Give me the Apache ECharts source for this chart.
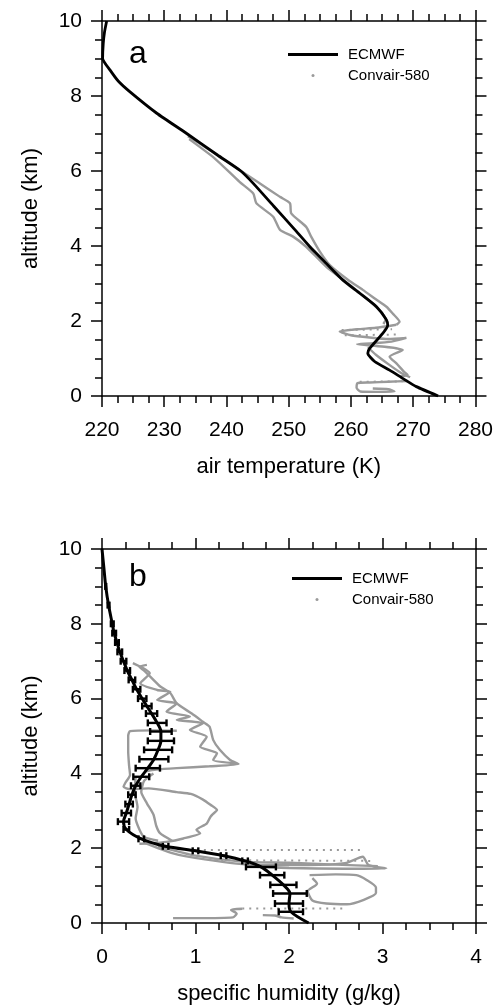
<!DOCTYPE html>
<html>
<head>
<meta charset="utf-8">
<script src="https://cdn.jsdelivr.net/npm/echarts@6/dist/echarts.min.js"></script>
<style>
html,body{margin:0;padding:0;background:#fff;}
#c{width:496px;height:1007px;}
</style>
</head>
<body>
<div id="c"></div>
<script>
// ---------- DATA ----------
// Panel a: air temperature (K) vs altitude (km)
const ecmwfT = [[220.75,10],[220.4,9.7],[220.2,9.4],[220.1,9.0],[221.3,8.69],[222.6,8.4],[224.5,8.11],[228.8,7.54],[233.6,7.0],[238.6,6.42],[242.3,6.0],[244.3,5.67],[247.6,5.06],[250.9,4.45],[253.4,3.98],[256.0,3.54],[258.7,3.09],[261.4,2.74],[264.1,2.38],[265.7,2.03],[265.9,1.89],[265.1,1.67],[263.0,1.27],[262.7,1.14],[263.8,0.92],[266.2,0.69],[268.5,0.45],[270.5,0.25],[274.0,0]];
const convT1 = [[233.8,6.93],[237.4,6.55],[241.0,6.15],[244.9,5.72],[248.6,5.31],[250.2,5.14],[250.4,4.87],[252.8,4.51],[253.6,4.25],[255.0,3.85],[256.6,3.49],[259.5,3.1],[261.9,2.83],[264.0,2.58],[265.7,2.38],[266.7,2.2],[267.8,1.98],[267.3,1.9]];
const convT2 = [[234.0,6.85],[238.0,6.35],[242.1,5.71],[244.3,5.40],[244.8,5.14],[247.5,4.78],[248.6,4.43],[250.7,4.25],[252.8,3.98],[256.0,3.45],[259.5,3.0],[262.5,2.6],[264.5,2.3],[265.6,2.05],[265.2,1.92]];
const convT3 = [[267.3,1.9],[264.0,1.82],[261.0,1.78],[258.2,1.72],[260.0,1.62],[263.0,1.56],[266.0,1.52],[268.9,1.55],[266.5,1.45],[263.0,1.4],[261.0,1.38],[265.0,1.32],[268.3,1.23],[266.2,1.05],[267.3,0.87],[268.5,0.65],[269.1,0.56],[268.0,0.52]];
const convT4 = [[262.7,1.30],[264.0,1.1],[266.0,0.85],[268.0,0.62],[269.5,0.5]];
const convT5 = [[269.1,0.40],[266.0,0.38],[263.0,0.36],[261.0,0.34],[260.9,0.22],[261.5,0.12],[264.0,0.11],[267.0,0.12],[266.0,0.18],[263.5,0.2]];
const convTdots = [[[258.5,1.76],[266.6,1.78]],[[259.0,1.62],[268.0,1.64]],[[261.4,0.38],[268.3,0.39]]];

// Panel b: specific humidity (g/kg) vs altitude (km); ECMWF [q, z, std]
const ecmwfQ = [[0.0,10.0,0],[0.02,9.5,0],[0.04,9.0,0.005],[0.07,8.5,0.01],[0.11,8.0,0.015],[0.13,7.75,0.02],[0.16,7.5,0.02],[0.19,7.25,0.025],[0.23,7.0,0.03],[0.27,6.75,0.03],[0.32,6.5,0.035],[0.37,6.25,0.04],[0.43,6.0,0.045],[0.48,5.8,0.05],[0.53,5.6,0.06],[0.59,5.35,0.10],[0.63,5.12,0.115],[0.63,4.87,0.14],[0.60,4.63,0.15],[0.555,4.38,0.155],[0.49,4.14,0.13],[0.42,3.91,0.085],[0.36,3.67,0.05],[0.32,3.43,0.04],[0.29,3.18,0.04],[0.26,2.94,0.05],[0.23,2.71,0.06],[0.26,2.5,0.03],[0.42,2.25,0.03],[0.68,2.05,0.03],[1.0,1.93,0.03],[1.3,1.80,0.03],[1.53,1.66,0.03],[1.70,1.50,0.16],[1.82,1.28,0.13],[1.94,1.02,0.14],[2.01,0.79,0.18],[2.0,0.52,0.15],[2.02,0.30,0.13],[2.21,0.0,0]];
const convQ1 = [[0.48,6.9],[0.40,6.85],[0.45,6.75],[0.51,6.6],[0.62,6.33],[0.73,6.15],[0.80,5.87],[0.96,5.6],[1.08,5.38],[1.15,5.25],[1.19,4.89],[1.26,4.63],[1.37,4.36],[1.46,4.25],[1.15,4.19],[0.80,4.14],[0.58,4.10],[0.45,4.05]];
const convQ2 = [[0.33,6.95],[0.51,6.68],[0.41,6.41],[0.59,6.23],[0.73,6.18],[0.59,5.96],[0.80,5.87],[0.69,5.65],[0.94,5.52],[0.80,5.43],[1.08,5.34],[0.94,5.16],[1.12,4.98],[1.05,4.71],[1.23,4.54],[1.19,4.36],[1.44,4.27]];
const convQ3 = [[0.80,5.14],[0.55,5.15],[0.30,5.13],[0.28,5.0],[0.28,4.6],[0.29,4.2],[0.30,3.96],[0.25,3.75],[0.23,3.64],[0.30,3.58],[0.50,3.6],[0.80,3.5],[0.95,3.45],[1.08,3.3],[1.16,3.16],[1.23,3.02],[1.18,2.9],[1.16,2.84],[1.12,2.66],[1.01,2.49],[1.05,2.4],[0.87,2.26],[0.69,2.17],[0.51,2.13],[0.40,2.12]];
const convQ4 = [[0.36,3.9],[0.35,3.5],[0.38,3.1],[0.36,2.8],[0.40,2.5],[0.45,2.3],[0.60,2.2]];
const convQ5 = [[0.55,4.0],[0.45,3.8],[0.42,3.5],[0.48,3.2],[0.55,2.9],[0.58,2.6],[0.62,2.4],[0.75,2.2]];
const convQ6 = [[0.45,2.15],[0.75,1.87],[1.1,1.7],[1.63,1.55],[2.2,1.55],[2.6,1.6],[2.79,1.77],[2.85,1.55],[3.04,1.46],[2.6,1.45],[2.0,1.47],[1.65,1.5]];
const convQ6b = [[0.6,2.05],[1.0,1.8],[1.5,1.64],[2.0,1.61],[2.5,1.56],[2.95,1.52]];
const convQ7 = [[2.22,1.28],[2.5,1.3],[2.72,1.28],[2.83,1.15],[2.93,0.95],[2.93,0.8],[2.8,0.62],[2.62,0.5],[2.4,0.52],[2.25,0.6],[2.2,0.85],[2.3,1.05],[2.25,1.2]];
const convQ8 = [[0.76,0.13],[1.0,0.13],[1.40,0.15],[1.44,0.25],[1.38,0.35],[1.5,0.38]];
const convQ9 = [[1.72,0.21],[1.85,0.2],[1.92,0.15],[2.05,0.12]];
const convQdots = [[[0.94,1.95],[2.79,1.95]],[[1.2,1.68],[2.9,1.66]],[[1.5,0.39],[2.58,0.39]]];

// Axis ranges and ticks
const tRange = [220, 280, 10];
const qRange = [0, 4, 1];
const zRange = [0, 10, 2];

// ---------- CHART ----------
const FONT = 'Liberation Sans, Arial, Helvetica, sans-serif';
const chart = echarts.init(document.getElementById('c'), null, {renderer: 'canvas', width: 496, height: 1007});

function xAx(gi, range, pos, name) {
  return {
    type: 'value', gridIndex: gi, position: pos, min: range[0], max: range[1], interval: range[2],
    name: name || '', nameLocation: 'middle', nameGap: 60,
    nameTextStyle: {fontSize: 22, color: '#000', fontFamily: FONT},
    axisLine: {show: true, onZero: false, lineStyle: {color: '#000', width: 1.5}},
    axisTick: {show: true, inside: false, length: 11, lineStyle: {color: '#000', width: 1.5}},
    minorTick: {show: true, splitNumber: 4, length: 7, lineStyle: {color: '#000', width: 1.5}},
    splitLine: {show: false}, minorSplitLine: {show: false},
    axisLabel: {show: pos === 'bottom', margin: 24, fontSize: 21, color: '#000', fontFamily: FONT}
  };
}
function yAx(gi, pos, name) {
  return {
    type: 'value', gridIndex: gi, position: pos, min: zRange[0], max: zRange[1], interval: zRange[2],
    name: name || '', nameLocation: 'middle', nameGap: 60, nameRotate: 90,
    nameTextStyle: {fontSize: 22, color: '#000', fontFamily: FONT},
    axisLine: {show: true, onZero: false, lineStyle: {color: '#000', width: 1.5}},
    axisTick: {show: true, inside: false, length: 11, lineStyle: {color: '#000', width: 1.5}},
    minorTick: {show: true, splitNumber: 4, length: 7, lineStyle: {color: '#000', width: 1.5}},
    splitLine: {show: false}, minorSplitLine: {show: false},
    axisLabel: {show: pos === 'left', margin: 20, fontSize: 21, color: '#000', fontFamily: FONT}
  };
}

const GRAY = '#9a9a9a';
function grayLine(data, xi, yi) {
  return {type: 'line', name: 'Convair-580', xAxisIndex: xi, yAxisIndex: yi, data: data,
    showSymbol: false, symbol: 'circle', symbolSize: 2, smooth: 0.2, z: 2,
    itemStyle: {color: GRAY}, lineStyle: {color: GRAY, width: 2.4}, silent: true, animation: false};
}
function grayDots(data, xi, yi) {
  return {type: 'line', name: 'Convair-580', xAxisIndex: xi, yAxisIndex: yi, data: data,
    showSymbol: false, symbol: 'circle', z: 2,
    itemStyle: {color: GRAY}, lineStyle: {color: GRAY, width: 2, type: [2, 5]}, silent: true, animation: false};
}

const series = [];
[convT1, convT2, convT3, convT4, convT5].forEach(d => series.push(grayLine(d, 0, 0)));
convTdots.forEach(d => series.push(grayDots(d, 0, 0)));
series.push({type: 'line', name: 'ECMWF', xAxisIndex: 0, yAxisIndex: 0, data: ecmwfT,
  showSymbol: false, smooth: 0.2, z: 5, itemStyle: {color: '#000'}, lineStyle: {color: '#000', width: 2.8}, animation: false});

[convQ1, convQ2, convQ3, convQ4, convQ5, convQ6, convQ6b, convQ7, convQ8, convQ9].forEach(d => series.push(grayLine(d, 2, 2)));
convQdots.forEach(d => series.push(grayDots(d, 2, 2)));
series.push({type: 'line', name: 'ECMWF', xAxisIndex: 2, yAxisIndex: 2, data: ecmwfQ.map(r => [r[0], r[1]]),
  showSymbol: false, smooth: 0.3, z: 5, itemStyle: {color: '#000'}, lineStyle: {color: '#000', width: 3}, animation: false});
series.push({type: 'custom', name: 'ECMWF', xAxisIndex: 2, yAxisIndex: 2, z: 6, animation: false,
  data: ecmwfQ.filter(r => r[2] > 0),
  encode: {x: 0, y: 1},
  renderItem: function (params, api) {
    const q = api.value(0), z = api.value(1), e = api.value(2);
    const l = api.coord([q - e, z]);
    const r = api.coord([q + e, z]);
    const cap = 3.5;
    const st = {stroke: '#000', lineWidth: 2.4};
    return {type: 'group', children: [
      {type: 'line', shape: {x1: l[0], y1: l[1], x2: r[0], y2: r[1]}, style: st},
      {type: 'line', shape: {x1: l[0], y1: l[1] - cap, x2: l[0], y2: l[1] + cap}, style: st},
      {type: 'line', shape: {x1: r[0], y1: r[1] - cap, x2: r[0], y2: r[1] + cap}, style: st}
    ]};
  }
});

function legendAt(left, top) {
  return {
    orient: 'vertical', left: left, top: top, itemWidth: 50, itemHeight: 3, itemGap: 6,
    selectedMode: false,
    data: [{name: 'ECMWF', icon: 'rect', itemStyle: {color: '#000'}}, {name: 'Convair-580', icon: 'circle', itemStyle: {color: GRAY}}],
    textStyle: {fontSize: 15, color: '#000', fontFamily: FONT, padding: [0, 0, 0, 5]}
  };
}

chart.setOption({
  animation: false,
  backgroundColor: '#fff',
  grid: [
    {left: 102, top: 21, width: 374, height: 375, containLabel: false},
    {left: 102, top: 549, width: 374, height: 374, containLabel: false}
  ],
  xAxis: [xAx(0, tRange, 'bottom', 'air temperature (K)'), xAx(0, tRange, 'top'),
          xAx(1, qRange, 'bottom', 'specific humidity (g/kg)'), xAx(1, qRange, 'top')],
  yAxis: [yAx(0, 'left', 'altitude (km)'), yAx(0, 'right'), yAx(1, 'left', 'altitude (km)'), yAx(1, 'right')],
  legend: [legendAt(283, 42), legendAt(287, 566)],
  graphic: [
    {type: 'text', left: 129, top: 38, style: {text: 'a', font: '32px ' + FONT, fill: '#000'}},
    {type: 'text', left: 129, top: 561, style: {text: 'b', font: '32px ' + FONT, fill: '#000'}}
  ],
  series: series
});
</script>
</body>
</html>
